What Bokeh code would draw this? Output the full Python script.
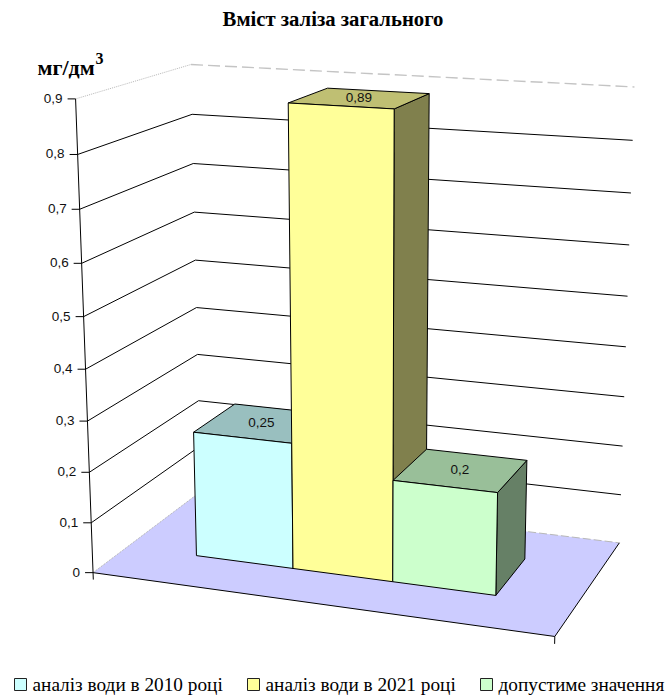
import numpy as np
from bokeh.core.properties import value
from bokeh.embed import file_html
from bokeh.plotting import figure
from bokeh.resources import INLINE

# Chart content
title_text = "Вміст заліза загального"
unit_text = "мг/дм"
series_names = ["аналіз води в 2010 році", "аналіз води в 2021 році", "допустиме значення"]
series_values = [0.25, 0.89, 0.2]
value_labels = ["0,25", "0,89", "0,2"]
tick_values = [0, 0.1, 0.2, 0.3, 0.4, 0.5, 0.6, 0.7, 0.8, 0.9]
tick_labels = ["0", "0,1", "0,2", "0,3", "0,4", "0,5", "0,6", "0,7", "0,8", "0,9"]
axis_max = 0.9

front_colors = ["#CCFFFF", "#FFFF99", "#CCFFCC"]
top_colors = ["#99BFBF", "#BFBF73", "#99BF99"]
side_colors = ["#668080", "#80804D", "#668066"]
floor_color = "#CCCCFF"

# Camera: where the corners of the plot box (u, v, w) land on the page
box_corners = [
    ((0, 0, 0), (92, 572)), ((0, 0, 1), (74, 99)),
    ((0, 1, 0), (200, 493)), ((0, 1, 1), (190, 64)),
    ((1, 1, 0), (619, 542)), ((1, 1, 1), (635, 87)),
    ((1, 0, 0), (554, 637)),
]
# Extra sight lines along the value axis and the back wall
box_corners += [
    ((0, 0, 1 / 3), (89, 420)), ((0, 0, 2 / 3), (81, 262)),
    ((0, 1, 2 / 9), (198, 399)), ((0, 1, 8 / 9), (192, 114)),
    ((1, 1, 8 / 9), (632, 140)), ((1, 1, 1 / 3), (623, 395)),
]


def fit_camera(pairs, scale=665.0):
    rows = []
    for (u, v, w), (x, y) in pairs:
        X = [u, v, w, 1.0]
        sx, sy = x / scale, y / scale
        rows.append(X + [0, 0, 0, 0] + [-sx * c for c in X])
        rows.append([0, 0, 0, 0] + X + [-sy * c for c in X])
    _, _, vh = np.linalg.svd(np.array(rows))
    return vh[-1].reshape(3, 4) * np.array([[scale], [scale], [1.0]])


CAMERA = fit_camera(box_corners)


def project(u, v, val):
    h = CAMERA @ np.array([u, v, val / axis_max, 1.0])
    return float(h[0] / h[2]), float(h[1] / h[2])


def seg(*points):
    xs, ys = zip(*[project(*pt) for pt in points])
    return list(xs), list(ys)


p = figure(width=665, height=697, x_range=(0, 665), y_range=(697, 0),
           output_backend="svg", toolbar_location=None, min_border=0,
           background_fill_color="white", border_fill_color="white",
           outline_line_color=None)
p.axis.visible = False
p.grid.visible = False

# Floor
fx, fy = seg((0, 0, 0), (1, 0, 0), (1, 1, 0), (0, 1, 0))
p.patch(fx, fy, fill_color=floor_color, line_color=None)

# Wall grid lines; the outermost ones are drawn faint
for val in tick_values[1:-1]:
    xs, ys = seg((0, 0, val), (0, 1, val), (1, 1, val))
    p.line(xs, ys, line_color="black", line_width=1)
xs, ys = seg((0, 0, axis_max), (0, 1, axis_max))
p.line(xs, ys, line_color="#B8B8B8", line_width=1, line_dash="1 1")
xs, ys = seg((0, 1, axis_max), (1, 1, axis_max))
p.line(xs, ys, line_color="#C4C4C4", line_width=1.4, line_dash="12 5")
xs, ys = seg((0, 0, 0), (0, 1, 0))
p.line(xs, ys, line_color="#A8A8A8", line_width=1, line_dash="1 1")
xs, ys = seg((0, 1, 0), (1, 1, 0))
p.line(xs, ys, line_color="#B8B8B8", line_width=1, line_dash="8 3")

# Floor front and right edges, value axis and tick marks
xs, ys = seg((0, 0, 0), (1, 0, 0), (1, 1, 0))
p.line(xs, ys, line_color="black", line_width=1)
xs, ys = seg((0, 0, -0.014), (0, 0, axis_max))
p.line(xs, ys, line_color="black", line_width=1)
xs, ys = seg((1, 0, -0.014), (1, 0, 0))
p.line(xs, ys, line_color="black", line_width=1)

tick_len = 8
for val, label in zip(tick_values, tick_labels):
    x0, y0 = project(0, 0, val)
    p.line([x0 - tick_len, x0], [y0, y0], line_color="black", line_width=1)
    p.text([x0 - tick_len - 5], [y0 - 0.5], text=[label], text_font=value("Liberation Sans"),
           text_font_size="13.5px", text_color="#111111", text_align="right", text_baseline="middle")

# Bars, painted left to right so that nearer faces cover the ones behind
depth_near, depth_far = 0.30, 0.70
bar_start, bar_end = 0.163, 0.832
bar_width = (bar_end - bar_start) / len(series_values)
for i, val in enumerate(series_values):
    u0 = bar_start + i * bar_width
    u1 = u0 + bar_width
    faces = [
        ([(u1, depth_near, 0), (u1, depth_far, 0), (u1, depth_far, val), (u1, depth_near, val)], side_colors[i]),
        ([(u0, depth_near, val), (u1, depth_near, val), (u1, depth_far, val), (u0, depth_far, val)], top_colors[i]),
        ([(u0, depth_near, 0), (u1, depth_near, 0), (u1, depth_near, val), (u0, depth_near, val)], front_colors[i]),
    ]
    for corners, color in faces:
        xs, ys = seg(*corners)
        p.patch(xs, ys, fill_color=color, line_color="black", line_width=1)

# Value labels sit at the middle of each bar's top face
for i, (val, label) in enumerate(zip(series_values, value_labels)):
    u_mid = bar_start + (i + 0.5) * bar_width
    lx, ly = project(u_mid, 0.5 * (depth_near + depth_far), val)
    p.text([lx - 1], [ly - 1], text=[label], text_font=value("Liberation Sans"),
           text_font_size="13.5px", text_color="#111111", text_align="center", text_baseline="middle")

# Title and unit
p.text([332.5], [18], text=[title_text], text_font=value("Liberation Serif"), text_font_style="bold",
       text_font_size="20.7px", text_color="black", text_align="center", text_baseline="middle")
p.text([37], [67], text=[unit_text], text_font=value("Liberation Serif"), text_font_style="bold",
       text_font_size="22px", text_color="black", text_align="left", text_baseline="middle")
p.text([95], [58], text=["3"], text_font=value("Liberation Serif"), text_font_style="bold",
       text_font_size="16px", text_color="black", text_align="left", text_baseline="middle")

# Legend
legend_x = [14, 247, 480]
p.rect(x=[v + 6 for v in legend_x], y=[684] * 3, width=12, height=12, fill_color=front_colors,
       line_color="#222222", line_width=1)
p.text(x=[v + 18 for v in legend_x], y=[684] * 3, text=series_names, text_font=value("Liberation Serif"),
       text_font_size="19.3px", text_color="black", text_align="left", text_baseline="middle")

open("out.html", "w").write(file_html(p, INLINE))
